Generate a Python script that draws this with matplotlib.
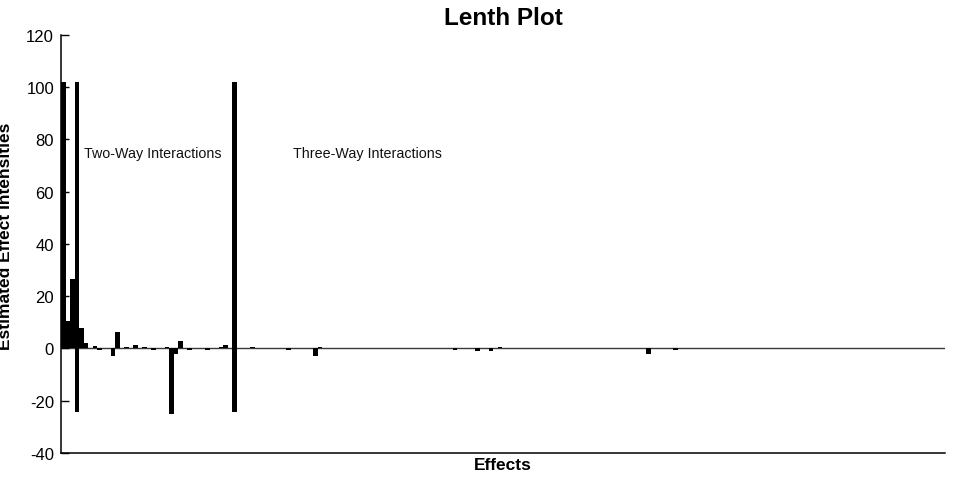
import matplotlib
matplotlib.use("Agg")
import matplotlib.pyplot as plt

plt.rcParams['font.family'] = ['Liberation Sans', 'DejaVu Sans']
plt.rcParams['axes.unicode_minus'] = False

# ---- data (effect slot index -> estimated effect intensity) ----
n_slots = 196
main_index = [0, 1, 2]
main_values = [102, 10.5, 26.5]

two_way_index = [4, 5, 7, 8, 11, 12, 14, 16, 18, 20, 23, 24, 25, 26, 28, 32, 35, 36]
two_way_values = [8, 2, 1, -0.5, -3, 6.5, 0.5, 1.5, 0.5, -0.4, 0.6, -25, -2, 3, -0.4, -0.4, 0.5, 1.5]

three_way_index = [42, 50, 56, 57, 87, 92, 95, 97, 130, 136]
three_way_values = [0.6, -0.4, -3, 0.4, -0.4, -1, -1, 0.5, -2, -0.7]

divider_index = [3, 38]
divider_low = -24.5
divider_high = 102

labels = ["Two-Way Interactions", "Three-Way Interactions"]
label_x = [5.1, 51.6]
label_y = 75

yticks = [-40, -20, 0, 20, 40, 60, 80, 100, 120]

fig = plt.figure(figsize=(9.54, 4.89), dpi=100)
ax = fig.add_axes([0.064, 0.0716, 0.9266, 0.8548])

w = 0.98
for idx, vals in ((main_index, main_values), (two_way_index, two_way_values),
                  (three_way_index, three_way_values)):
    ax.bar([i + 0.5 for i in idx], vals, width=w, color='black', linewidth=0)

ax.bar([i + 0.5 for i in divider_index], [divider_high - divider_low] * len(divider_index),
       bottom=divider_low, width=w, color='black', linewidth=0)

ax.axhline(0, color='#3a3a3a', linewidth=1.0, zorder=0)

for t, x in zip(labels, label_x):
    ax.text(x, label_y, t, fontsize=10.3, ha='left', va='center', color='#111111')

ax.set_xlim(0, n_slots + 0.4)
ax.set_ylim(-40, 120)
ax.set_yticks(yticks)
ax.set_xticks([])
ax.tick_params(axis='y', direction='in', length=6, width=1, labelsize=12, pad=5)
for s in ('top', 'right'):
    ax.spines[s].set_visible(False)
for s in ('left', 'bottom'):
    ax.spines[s].set_linewidth(1.1)

ax.set_title("Lenth Plot", fontsize=17.5, fontweight='bold', pad=8)
ax.set_xlabel("Effects", fontsize=12.5, fontweight='bold', labelpad=3)
ax.set_ylabel("Estimated Effect Intensities", fontsize=12.5, fontweight='bold')
ax.yaxis.set_label_coords(-0.054, 0.52)

fig.savefig("out.png", dpi=100)
